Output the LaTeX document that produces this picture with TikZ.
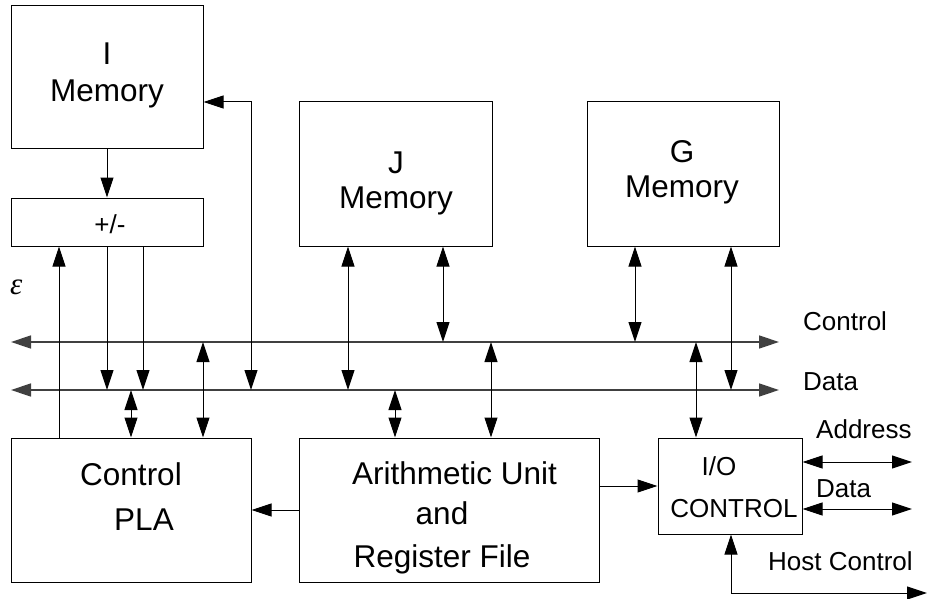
\documentclass[tikz,border=0pt]{standalone}
\usepackage{fontspec}
\setmainfont{Liberation Sans}
\newfontfamily\epsfont{Liberation Serif}
\usetikzlibrary{arrows.meta}
\begin{document}
\begin{tikzpicture}[x=1pt,y=-1pt,
  box/.style={draw, line width=1pt, inner sep=0pt, rectangle},
  big/.style={font=\fontsize{31.5}{37}\selectfont, inner sep=0pt, anchor=base},
  small/.style={font=\fontsize{26}{31}\selectfont, inner sep=0pt, anchor=base},
  wire/.style={line width=1pt, draw=black},
  bus/.style={line width=1.4pt, draw=black!75},
  ah/.tip={Triangle[length=20pt,width=13pt]},
  one/.style={-ah},
  two/.style={ah-ah},
]
\useasboundingbox (0,0) rectangle (929,599);
% boxes
\node[box, minimum width=192pt, minimum height=143pt] (imem) at (107,77.5) {};
\node[box, minimum width=192pt, minimum height=48pt] (pm) at (107,222) {};
\node[box, minimum width=193pt, minimum height=144pt] (jmem) at (395.5,174) {};
\node[box, minimum width=192pt, minimum height=144pt] (gmem) at (683,174) {};
\node[box, minimum width=240pt, minimum height=144pt] (pla) at (131,510) {};
\node[box, minimum width=300pt, minimum height=144pt] (alu) at (449,510) {};
\node[box, minimum width=144pt, minimum height=96pt] (io) at (730,486) {};
% texts
\node[big] (t1) at (107,65) {I};
\node[big] (t2) at (107,102) {Memory};
\node[small] (t3) at (110,233) {+/-};
\node[big] (t4) at (396,173) {J};
\node[big] (t5) at (396,208) {Memory};
\node[big] (t6) at (682,163) {G};
\node[big] (t7) at (682,197) {Memory};
\node[big] (t8) at (131,485) {Control};
\node[big] (t9) at (144,530) {PLA};
\node[big] (t10) at (454.5,484) {Arithmetic Unit};
\node[big] (t11) at (442,524) {and};
\node[big] (t12) at (442,567) {Register File};
\node[small] (t13) at (719,475) {I/O};
\node[small] (t14) at (734,517) {CONTROL};
\node[small, anchor=base west] (t15) at (803,330) {Control};
\node[small, anchor=base west] (t16) at (803,390) {Data};
\node[small, anchor=base west] (t17) at (816,438) {Address};
\node[small, anchor=base west] (t18) at (816,497) {Data};
\node[small, anchor=base west] (t19) at (768,570) {Host Control};
\node[inner sep=0pt, anchor=base west, font=\epsfont\itshape\fontsize{31}{34}\selectfont] (eps) at (10,294) {ε};
% bus coordinates
\coordinate (cL) at (11,342); \coordinate (cR) at (779,342);
\coordinate (dL) at (11,390); \coordinate (dR) at (779,390);
\draw[bus, two] (cL) -- (cR);
\draw[bus, two] (dL) -- (dR);
% tap points
\coordinate (d107) at (107,390);
\coordinate (d143) at (143,390);
\coordinate (x59) at (59,0);
\coordinate (d131) at (131,390);
\coordinate (c203) at (203,342);
\coordinate (d251) at (251,390);
\coordinate (k102) at (251,102);
\coordinate (d348) at (348,390);
\coordinate (c443) at (443,342);
\coordinate (d395) at (395,390);
\coordinate (c491) at (491,342);
\coordinate (c635) at (635,342);
\coordinate (d731) at (731,390);
\coordinate (c696) at (696,342);
\coordinate (y510) at (0,510);
\coordinate (y486) at (0,486);
\coordinate (a1) at (912,462);
\coordinate (a2) at (912,509);
\coordinate (h1) at (731,593);
\coordinate (h2) at (927,593);
% connectors
\draw[wire, one] (imem.south) -- (pm.north);
\draw[wire, one] (pm.south -| d107) -- (d107);
\draw[wire, one] (pm.south -| d143) -- (d143);
\draw[wire, one] (pla.north -| x59) -- (pm.south -| x59);
\draw[wire, two] (pla.north -| d131) -- (d131);
\draw[wire, two] (pla.north -| c203) -- (c203);
\draw[wire, two] (imem.east |- k102) -- (k102) -- (d251);
\draw[wire, two] (jmem.south -| d348) -- (d348);
\draw[wire, two] (jmem.south -| c443) -- (c443);
\draw[wire, two] (alu.north -| d395) -- (d395);
\draw[wire, two] (alu.north -| c491) -- (c491);
\draw[wire, two] (gmem.south -| c635) -- (c635);
\draw[wire, two] (gmem.south -| d731) -- (d731);
\draw[wire, two] (io.north -| c696) -- (c696);
\draw[wire, one] (alu.west |- y510) -- (pla.east |- y510);
\draw[wire, one] (alu.east |- y486) -- (io.west |- y486);
\draw[wire, two] (io.east |- a1) -- (a1);
\draw[wire, two] (io.east |- a2) -- (a2);
\draw[wire, two] (io.south -| h1) -- (h1) -- (h2);
\end{tikzpicture}
\end{document}
